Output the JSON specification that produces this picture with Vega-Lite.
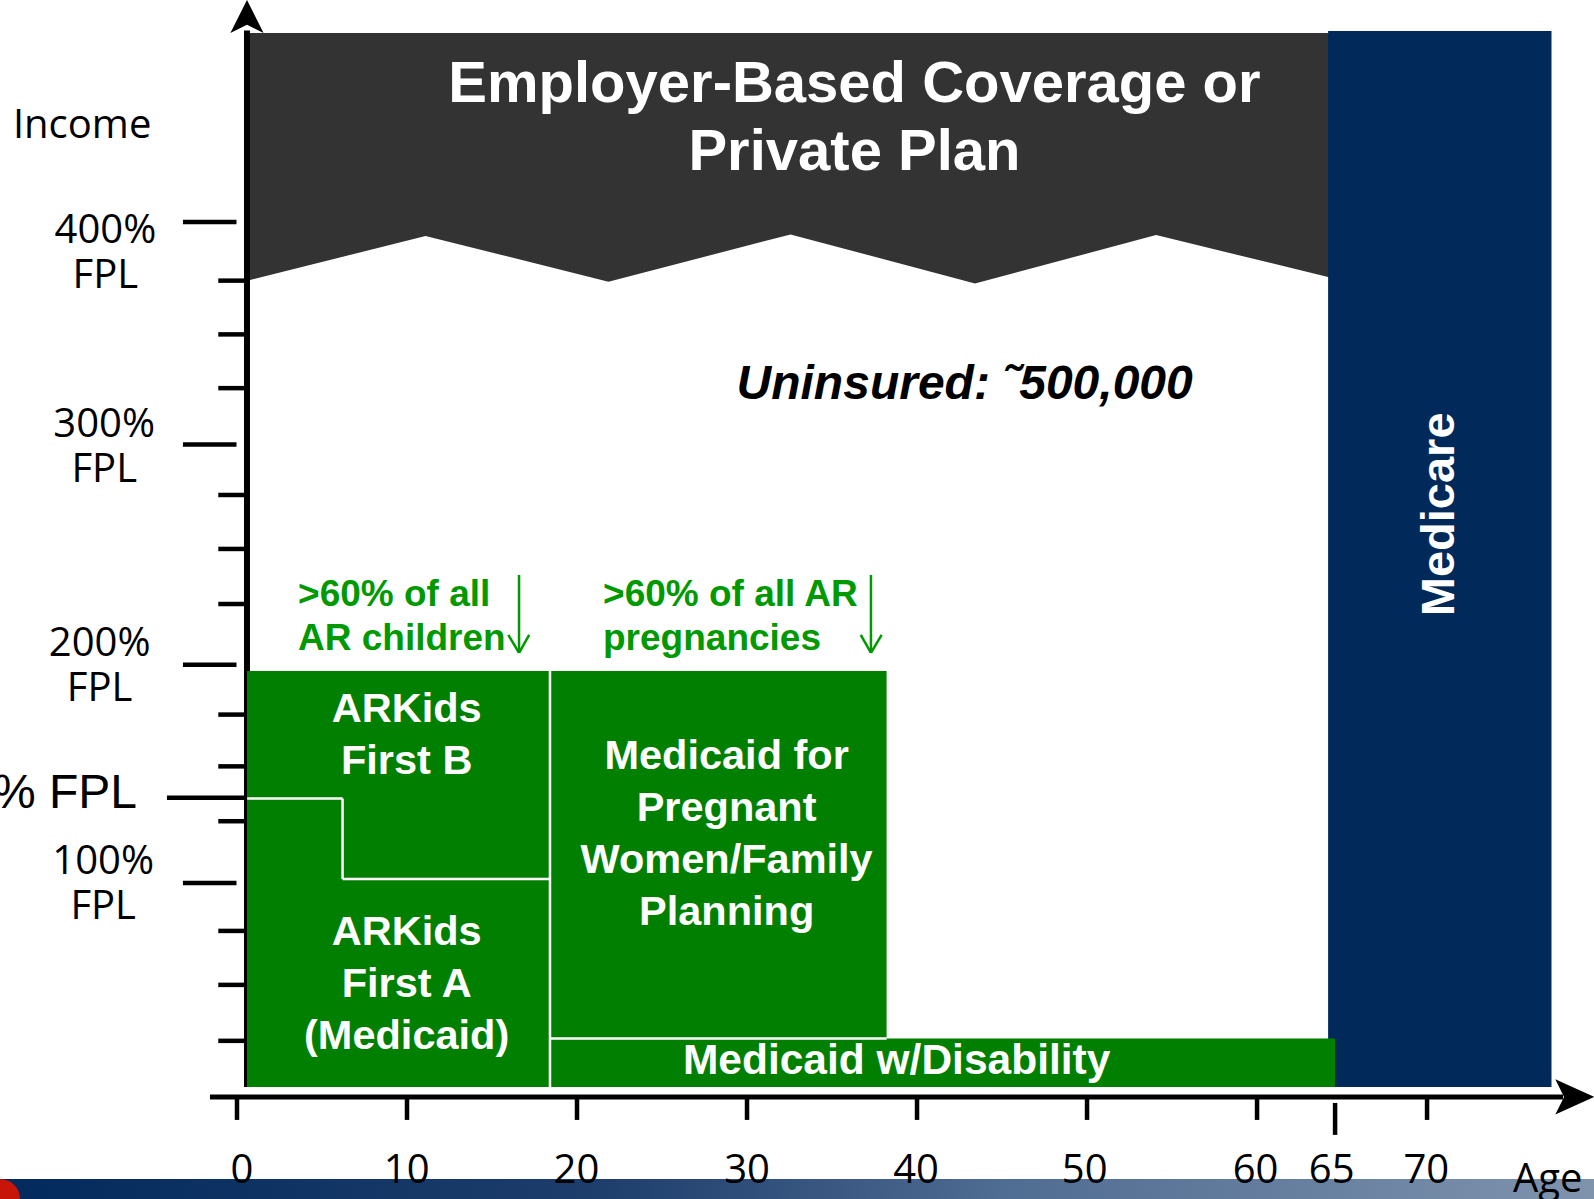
{
 "$schema": "https://vega.github.io/schema/vega-lite/v6.json",
 "width": 1594, "height": 1199, "padding": 0, "autosize": {"type": "none"},
 "background": "white",
 "config": {"view": {"stroke": null}},
 "encoding": {
  "x": {"field": "a", "type": "quantitative", "scale": {"domain": [-13.94, 79.82], "nice": false, "zero": false}, "axis": null},
  "y": {"field": "p", "type": "quantitative", "scale": {"domain": [-43.5, 500.8], "nice": false, "zero": false}, "axis": null}
 },
 "layer": [
  {"data": {"values": [{"a": -13.94, "a2": 79.82, "p": -34.4, "p2": -43.5}]},
   "mark": {"type": "rect", "fill": {"gradient": "linear", "stops": [{"offset": 0, "color": "#022a5c"}, {"offset": 0.38, "color": "#1e3e6c"}, {"offset": 0.63, "color": "#4f6c92"}, {"offset": 1, "color": "#7f93ad"}]}},
   "encoding": {"x2": {"field": "a2"}, "y2": {"field": "p2"}}},
  {"data": {"values": [{"a": -13.94, "p": -43.5}]},
   "mark": {"type": "point", "shape": "circle", "filled": true, "size": 1600, "color": "#c8150a", "opacity": 1}},
  {"data": {"values": [{"a": 0.588, "p": 373.3, "p2": 485.8}, {"a": 11.09, "p": 393.7, "p2": 485.8}, {"a": 21.85, "p": 372.9, "p2": 485.8}, {"a": 32.56, "p": 394.4, "p2": 485.8}, {"a": 43.41, "p": 372.1, "p2": 485.8}, {"a": 54.06, "p": 394.1, "p2": 485.8}, {"a": 64.3, "p": 374.8, "p2": 485.8}]},
   "mark": {"type": "area", "color": "#333333", "opacity": 1, "interpolate": "linear"},
   "encoding": {"y2": {"field": "p2"}}},
  {"data": {"values": [{"a": 64.18, "a2": 77.32, "p": 7.4, "p2": 486.7}]},
   "mark": {"type": "rect", "color": "#012a5b"},
   "encoding": {"x2": {"field": "a2"}, "y2": {"field": "p2"}}},
  {"data": {"values": [{"a": 0.588, "a2": 0.588, "p": 7.4, "p2": 487}]},
   "mark": {"type": "rule", "color": "black", "strokeWidth": 6},
   "encoding": {"x2": {"field": "a2"}, "y2": {"field": "p2"}}},
  {"data": {"values": [
    {"a": 0.588, "a2": 18.41, "p": 7.4, "p2": 196.2},
    {"a": 18.41, "a2": 38.21, "p": 29.4, "p2": 196.2},
    {"a": 18.41, "a2": 64.59, "p": 7.4, "p2": 29.4}]},
   "mark": {"type": "rect", "color": "#007f00"},
   "encoding": {"x2": {"field": "a2"}, "y2": {"field": "p2"}}},
  {"data": {"values": [
    {"a": 18.41, "a2": 18.41, "p": 7.4, "p2": 196.2},
    {"a": 0.6, "a2": 6.21, "p": 138.3, "p2": 138.3},
    {"a": 6.21, "a2": 6.21, "p": 138.3, "p2": 101.8},
    {"a": 6.21, "a2": 18.41, "p": 101.8, "p2": 101.8},
    {"a": 18.41, "a2": 38.21, "p": 29.4, "p2": 29.4}]},
   "mark": {"type": "rule", "color": "white", "strokeWidth": 2.5},
   "encoding": {"x2": {"field": "a2"}, "y2": {"field": "p2"}}},
  {"data": {"values": [
    {"a": -3.18, "a2": -0.03, "p": 400, "p2": 400},
    {"a": -3.18, "a2": -0.03, "p": 299, "p2": 299},
    {"a": -3.18, "a2": -0.03, "p": 199, "p2": 199},
    {"a": -4.12, "a2": 0.47, "p": 138.6, "p2": 138.6},
    {"a": -3.18, "a2": -0.03, "p": 100, "p2": 100},
    {"a": -1.1, "a2": 0.5, "p": 373.4, "p2": 373.4},
    {"a": -1.1, "a2": 0.5, "p": 349.0, "p2": 349.0},
    {"a": -1.1, "a2": 0.5, "p": 324.6, "p2": 324.6},
    {"a": -1.1, "a2": 0.5, "p": 276.1, "p2": 276.1},
    {"a": -1.1, "a2": 0.5, "p": 251.6, "p2": 251.6},
    {"a": -1.1, "a2": 0.5, "p": 226.6, "p2": 226.6},
    {"a": -1.1, "a2": 0.5, "p": 176.4, "p2": 176.4},
    {"a": -1.1, "a2": 0.5, "p": 152.9, "p2": 152.9},
    {"a": -1.1, "a2": 0.5, "p": 128.0, "p2": 128.0},
    {"a": -1.1, "a2": 0.5, "p": 78.2, "p2": 78.2},
    {"a": -1.1, "a2": 0.5, "p": 53.7, "p2": 53.7},
    {"a": -1.1, "a2": 0.5, "p": 28.3, "p2": 28.3},
    {"a": 0, "a2": 0, "p": 2.86, "p2": -7.6},
    {"a": 10, "a2": 10, "p": 2.86, "p2": -7.6},
    {"a": 20, "a2": 20, "p": 2.86, "p2": -7.6},
    {"a": 30, "a2": 30, "p": 2.86, "p2": -7.6},
    {"a": 40, "a2": 40, "p": 2.86, "p2": -7.6},
    {"a": 50, "a2": 50, "p": 2.86, "p2": -7.6},
    {"a": 60, "a2": 60, "p": 2.86, "p2": -7.6},
    {"a": 70, "a2": 70, "p": 2.86, "p2": -7.6},
    {"a": 64.59, "a2": 64.59, "p": 0.1, "p2": -14.4}]},
   "mark": {"type": "rule", "color": "black", "strokeWidth": 4.5},
   "encoding": {"x2": {"field": "a2"}, "y2": {"field": "p2"}}},
  {"data": {"values": [{"a": -1.59, "a2": 78.0, "p": 2.86, "p2": 2.86}]},
   "mark": {"type": "rule", "color": "black", "strokeWidth": 5},
   "encoding": {"x2": {"field": "a2"}, "y2": {"field": "p2"}}},
  {"data": {"values": [{"a": 78.69, "p": 2.86}]},
   "mark": {"type": "point", "shape": "M 1 0 L -1 -0.9 L -0.55 0 L -1 0.9 Z", "filled": true, "size": 1521, "color": "black", "opacity": 1}},
  {"data": {"values": [{"a": 0.588, "p": 493.3}]},
   "mark": {"type": "point", "shape": "M 0 -1 L 1 1 L 0 0.5 L -1 1 Z", "filled": true, "size": 1100, "color": "black", "opacity": 1}},
  {"data": {"values": [
    {"a": 16.59, "a2": 16.59, "p": 239.8, "p2": 204.4},
    {"a": 15.96, "a2": 16.59, "p": 212.6, "p2": 204.4},
    {"a": 17.19, "a2": 16.59, "p": 212.6, "p2": 204.4},
    {"a": 37.29, "a2": 37.29, "p": 239.8, "p2": 204.4},
    {"a": 36.69, "a2": 37.29, "p": 212.6, "p2": 204.4},
    {"a": 37.92, "a2": 37.29, "p": 212.6, "p2": 204.4}]},
   "mark": {"type": "rule", "color": "#009900", "strokeWidth": 2.5},
   "encoding": {"x2": {"field": "a2"}, "y2": {"field": "p2"}}},
  {"data": {"values": [{"a": 36.32, "p": 454.5, "t": "Employer-Based Coverage or\nPrivate Plan"}]},
   "mark": {"type": "text", "font": "Liberation Sans", "fontWeight": "bold", "fontSize": 58, "color": "white", "align": "center", "baseline": "alphabetic", "lineBreak": "\n", "lineHeight": 68},
   "encoding": {"text": {"field": "t"}}},
  {"data": {"values": [{"a": 42.8, "p": 319.5, "t": "Uninsured: ˜500,000"}]},
   "mark": {"type": "text", "font": "Liberation Sans", "fontWeight": "bold", "fontStyle": "italic", "fontSize": 48, "color": "black", "align": "center", "baseline": "alphabetic"},
   "encoding": {"text": {"field": "t"}}},
  {"data": {"values": [{"a": 71.59, "p": 267.3, "t": "Medicare"}]},
   "mark": {"type": "text", "font": "Liberation Sans", "fontWeight": "bold", "fontSize": 47, "color": "white", "align": "center", "baseline": "alphabetic", "angle": 270},
   "encoding": {"text": {"field": "t"}}},
  {"data": {"values": [
    {"a": 9.98, "p": 173.1, "t": "ARKids\nFirst B"},
    {"a": 9.98, "p": 71.7, "t": "ARKids\nFirst A\n(Medicaid)"},
    {"a": 28.8, "p": 151.5, "t": "Medicaid for\nPregnant\nWomen/Family\nPlanning"}]},
   "mark": {"type": "text", "font": "Liberation Sans", "fontWeight": "bold", "fontSize": 41.5, "color": "white", "align": "center", "baseline": "alphabetic", "lineBreak": "\n", "lineHeight": 51.8},
   "encoding": {"text": {"field": "t"}}},
  {"data": {"values": [{"a": 38.8, "p": 13.1, "t": "Medicaid w/Disability"}]},
   "mark": {"type": "text", "font": "Liberation Sans", "fontWeight": "bold", "fontSize": 42.5, "color": "white", "align": "center", "baseline": "alphabetic"},
   "encoding": {"text": {"field": "t"}}},
  {"data": {"values": [
    {"a": 3.59, "p": 225.8, "t": ">60% of all\nAR children"},
    {"a": 21.53, "p": 225.8, "t": ">60% of all AR\npregnancies"}]},
   "mark": {"type": "text", "font": "Liberation Sans", "fontWeight": "bold", "fontSize": 37, "color": "#009900", "align": "left", "baseline": "alphabetic", "lineBreak": "\n", "lineHeight": 44.7},
   "encoding": {"text": {"field": "t"}}},
  {"data": {"values": [
    {"a": -7.74, "p": 390.5, "t": "400%\nFPL"},
    {"a": -7.81, "p": 302.5, "t": "300%\nFPL"},
    {"a": -8.08, "p": 203.2, "t": "200%\nFPL"},
    {"a": -7.87, "p": 104.0, "t": "100%\nFPL"}]},
   "mark": {"type": "text", "font": "Open Sans", "fontSize": 40, "color": "black", "align": "center", "baseline": "alphabetic", "lineBreak": "\n", "lineHeight": 45},
   "encoding": {"text": {"field": "t"}}},
  {"data": {"values": [{"a": -13.18, "p": 438.2, "t": "Income"}]},
   "mark": {"type": "text", "font": "Open Sans", "fontSize": 40, "color": "black", "align": "left", "baseline": "alphabetic"},
   "encoding": {"text": {"field": "t"}}},
  {"data": {"values": [{"a": -5.88, "p": 134.0, "t": "138% FPL"}]},
   "mark": {"type": "text", "font": "Liberation Sans", "fontSize": 48, "color": "black", "align": "right", "baseline": "alphabetic"},
   "encoding": {"text": {"field": "t"}}},
  {"data": {"values": [
    {"a": 0.29, "p": -36.4, "t": "0"},
    {"a": 9.98, "p": -36.4, "t": "10"},
    {"a": 19.97, "p": -36.4, "t": "20"},
    {"a": 30.0, "p": -36.4, "t": "30"},
    {"a": 39.94, "p": -36.4, "t": "40"},
    {"a": 49.86, "p": -36.4, "t": "50"},
    {"a": 59.91, "p": -36.4, "t": "60"},
    {"a": 64.39, "p": -36.4, "t": "65"},
    {"a": 69.96, "p": -36.4, "t": "70"}]},
   "mark": {"type": "text", "font": "Open Sans", "fontSize": 40, "color": "black", "align": "center", "baseline": "alphabetic"},
   "encoding": {"text": {"field": "t"}}},
  {"data": {"values": [{"a": 75.06, "p": -40.1, "t": "Age"}]},
   "mark": {"type": "text", "font": "Open Sans", "fontSize": 40, "color": "black", "align": "left", "baseline": "alphabetic"},
   "encoding": {"text": {"field": "t"}}}
 ]
}
